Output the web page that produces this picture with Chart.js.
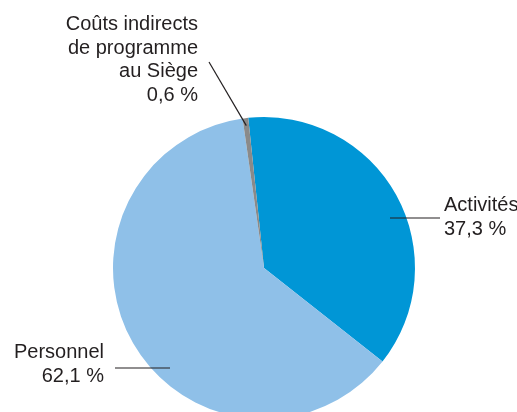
<!DOCTYPE html>
<html>
<head>
<meta charset="utf-8">
<script src="https://cdn.jsdelivr.net/npm/chart.js@4.4.1/dist/chart.umd.min.js"></script>
<style>
html,body{margin:0;padding:0;background:#fff;overflow:hidden;width:517px;height:412px;}
canvas{display:block;}
</style>
</head>
<body>
<canvas id="c" width="517" height="440"></canvas>
<script>
const categories = ["Activités", "Personnel", "Coûts indirects de programme au Siège"];
const values = [37.3, 62.1, 0.6];
const valueLabels = ["37,3 %", "62,1 %", "0,6 %"];
const labelLines = [["Activités", "37,3 %"], ["Personnel", "62,1 %"], ["Coûts indirects", "de programme", "au Siège", "0,6 %"]];
const colors = ["#0096d6", "#8fc0e8", "#8a8a8a"];

const labelPlugin = {
  id: 'sliceLabels',
  afterDatasetsDraw(chart) {
    const ctx = chart.ctx;
    const meta = chart.getDatasetMeta(0);
    const cfg = [
      {line: [[390, 218], [440, 218]], x: 444, y: 211, align: 'left'},
      {line: [[115, 368], [170, 368]], x: 104, y: 358, align: 'right'},
      {line: [[209, 62], null], x: 198, y: 30, align: 'right'}
    ];
    ctx.save();
    ctx.font = '20px "Liberation Sans", Arial, sans-serif';
    ctx.fillStyle = '#231f20';
    ctx.strokeStyle = '#231f20';
    ctx.lineWidth = 1.2;
    cfg.forEach((c, i) => {
      const arc = meta.data[i];
      let p2 = c.line[1];
      if (!p2) {
        const a = (arc.startAngle + arc.endAngle) / 2;
        p2 = [arc.x + Math.cos(a) * arc.outerRadius * 0.95, arc.y + Math.sin(a) * arc.outerRadius * 0.95];
      }
      ctx.beginPath();
      ctx.moveTo(c.line[0][0], c.line[0][1]);
      ctx.lineTo(p2[0], p2[1]);
      ctx.stroke();
      ctx.textAlign = c.align;
      ctx.textBaseline = 'alphabetic';
      labelLines[i].forEach((t, k) => ctx.fillText(t, c.x, c.y + k * 23.5));
    });
    ctx.restore();
  }
};

new Chart(document.getElementById('c'), {
  type: 'pie',
  data: {
    labels: categories,
    datasets: [{data: values, backgroundColor: colors, borderWidth: 0}]
  },
  options: {
    responsive: false,
    animation: false,
    rotation: -6,
    layout: {padding: {left: 113, right: 102, top: 117, bottom: 21}},
    plugins: {legend: {display: false}, tooltip: {enabled: false}}
  },
  plugins: [labelPlugin]
});
</script>
</body>
</html>
